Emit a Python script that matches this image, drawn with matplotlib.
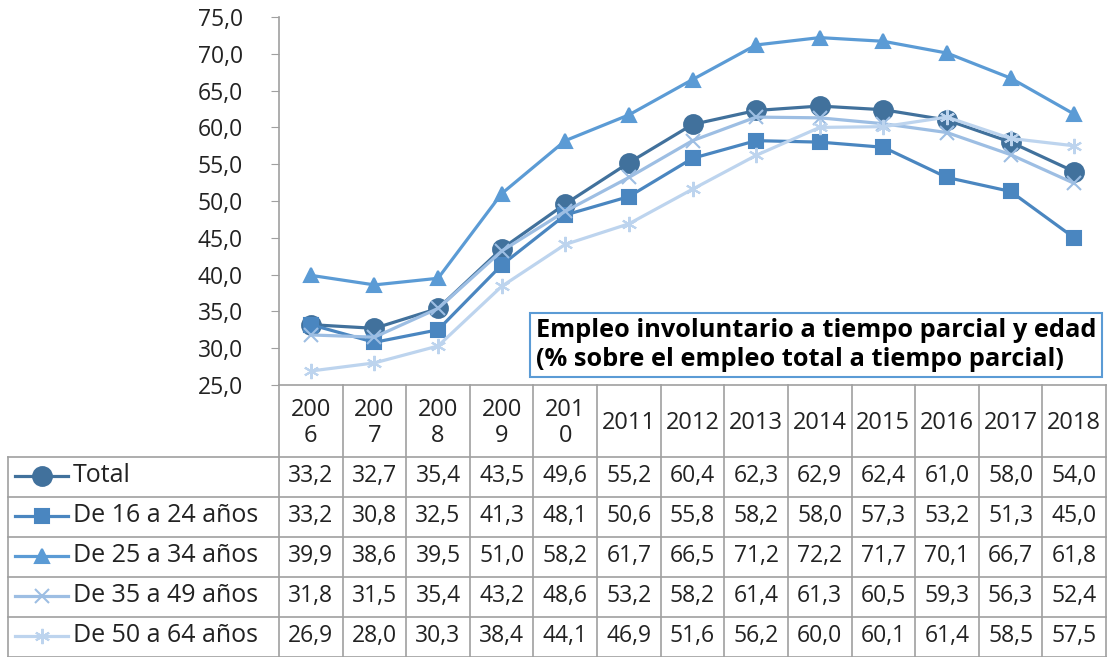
import matplotlib.pyplot as plt
from matplotlib.ticker import FuncFormatter

plt.rcParams['font.family'] = ['Open Sans', 'DejaVu Sans']

years = ['2006', '2007', '2008', '2009', '2010', '2011', '2012',
         '2013', '2014', '2015', '2016', '2017', '2018']
header_labels = ['200\n6', '200\n7', '200\n8', '200\n9', '201\n0', '2011', '2012',
                 '2013', '2014', '2015', '2016', '2017', '2018']

series_names = ['Total', 'De 16 a 24 años', 'De 25 a 34 años',
                'De 35 a 49 años', 'De 50 a 64 años']
total = [33.2, 32.7, 35.4, 43.5, 49.6, 55.2, 60.4, 62.3, 62.9, 62.4, 61.0, 58.0, 54.0]
age_16_24 = [33.2, 30.8, 32.5, 41.3, 48.1, 50.6, 55.8, 58.2, 58.0, 57.3, 53.2, 51.3, 45.0]
age_25_34 = [39.9, 38.6, 39.5, 51.0, 58.2, 61.7, 66.5, 71.2, 72.2, 71.7, 70.1, 66.7, 61.8]
age_35_49 = [31.8, 31.5, 35.4, 43.2, 48.6, 53.2, 58.2, 61.4, 61.3, 60.5, 59.3, 56.3, 52.4]
age_50_64 = [26.9, 28.0, 30.3, 38.4, 44.1, 46.9, 51.6, 56.2, 60.0, 60.1, 61.4, 58.5, 57.5]
all_series = [total, age_16_24, age_25_34, age_35_49, age_50_64]

colors = ['#41719C', '#4A86C0', '#5B9BD5', '#9DBEE3', '#BDD4EE']
markers = ['o', 's', '^', 'x', (6, 2, 0)]
msizes = [13.5, 10, 10, 10, 11]

W, H = 1113, 657
fig = plt.figure(figsize=(W / 100, H / 100), dpi=100)

# plot area in pixel coordinates
x0, x1, ytop, ybot = 279, 1106, 17, 385
ax = fig.add_axes([x0 / W, 1 - ybot / H, (x1 - x0) / W, (ybot - ytop) / H])
xs = list(range(len(years)))
for vals, c, m, ms in zip(all_series, colors, markers, msizes):
    ax.plot(xs, vals, color=c, lw=2.3, marker=m, ms=ms, mew=1.5, mec=c, mfc=c)
ax.set_xlim(-0.5, len(years) - 0.5)
ax.set_ylim(25, 75)
ax.set_yticks(range(25, 80, 5))
ax.yaxis.set_major_formatter(FuncFormatter(lambda v, p: f'{v:.1f}'.replace('.', ',')))
ax.tick_params(axis='y', labelsize=16.5, length=6, color='#A0A0A0', labelcolor='#222222', pad=20)
ax.set_xticks([])
for s in ['top', 'right', 'bottom']:
    ax.spines[s].set_visible(False)
ax.spines['left'].set_color('#A0A0A0')
ax.spines['left'].set_linewidth(1.2)

ax.text((536 - x0) / (x1 - x0), 1 - (345 - ytop) / (ybot - ytop),
        'Empleo involuntario a tiempo parcial y edad\n(% sobre el empleo total a tiempo parcial)',
        transform=ax.transAxes, fontsize=18.3, fontweight='bold', va='center', ha='left',
        linespacing=1.2,
        bbox=dict(boxstyle='square,pad=0.22', fc='white', ec='#5B9BD5', lw=1.5))

# data table below the plot, drawn in pixel coordinates
tab = fig.add_axes([0, 0, 1, 1])
tab.set_xlim(0, W)
tab.set_ylim(H, 0)
tab.axis('off')
grid = '#A0A0A0'
colw = (x1 - x0) / len(years)
row_tops = [457, 497, 537, 577, 617, 657]
for i in range(len(years) + 1):
    tab.plot([x0 + i * colw] * 2, [ybot, H], color=grid, lw=1.2)
tab.plot([x0, x1], [ybot, ybot], color=grid, lw=1.2)
for y in row_tops:
    tab.plot([8, x1], [y, y], color=grid, lw=1.2)
tab.plot([8, 8], [457, H], color=grid, lw=1.2)

for i, lab in enumerate(header_labels):
    tab.text(x0 + (i + 0.5) * colw, 423, lab, ha='center', va='center',
             fontsize=17, color='#222222', linespacing=1.1)

for r, (name, vals, c, m, ms) in enumerate(zip(series_names, all_series, colors, markers, msizes)):
    yc = row_tops[r] + 19
    tab.plot([15, 68], [yc, yc], color=c, lw=2.3)
    tab.plot([41.5], [yc], marker=m, ms=ms, color=c, mew=1.5)
    tab.text(73, yc, name, ha='left', va='center', fontsize=18, color='#222222')
    for i, v in enumerate(vals):
        tab.text(x0 + (i + 0.5) * colw, yc, f'{v:.1f}'.replace('.', ','),
                 ha='center', va='center', fontsize=16.5, color='#222222')

fig.savefig('out.png', dpi=100)
